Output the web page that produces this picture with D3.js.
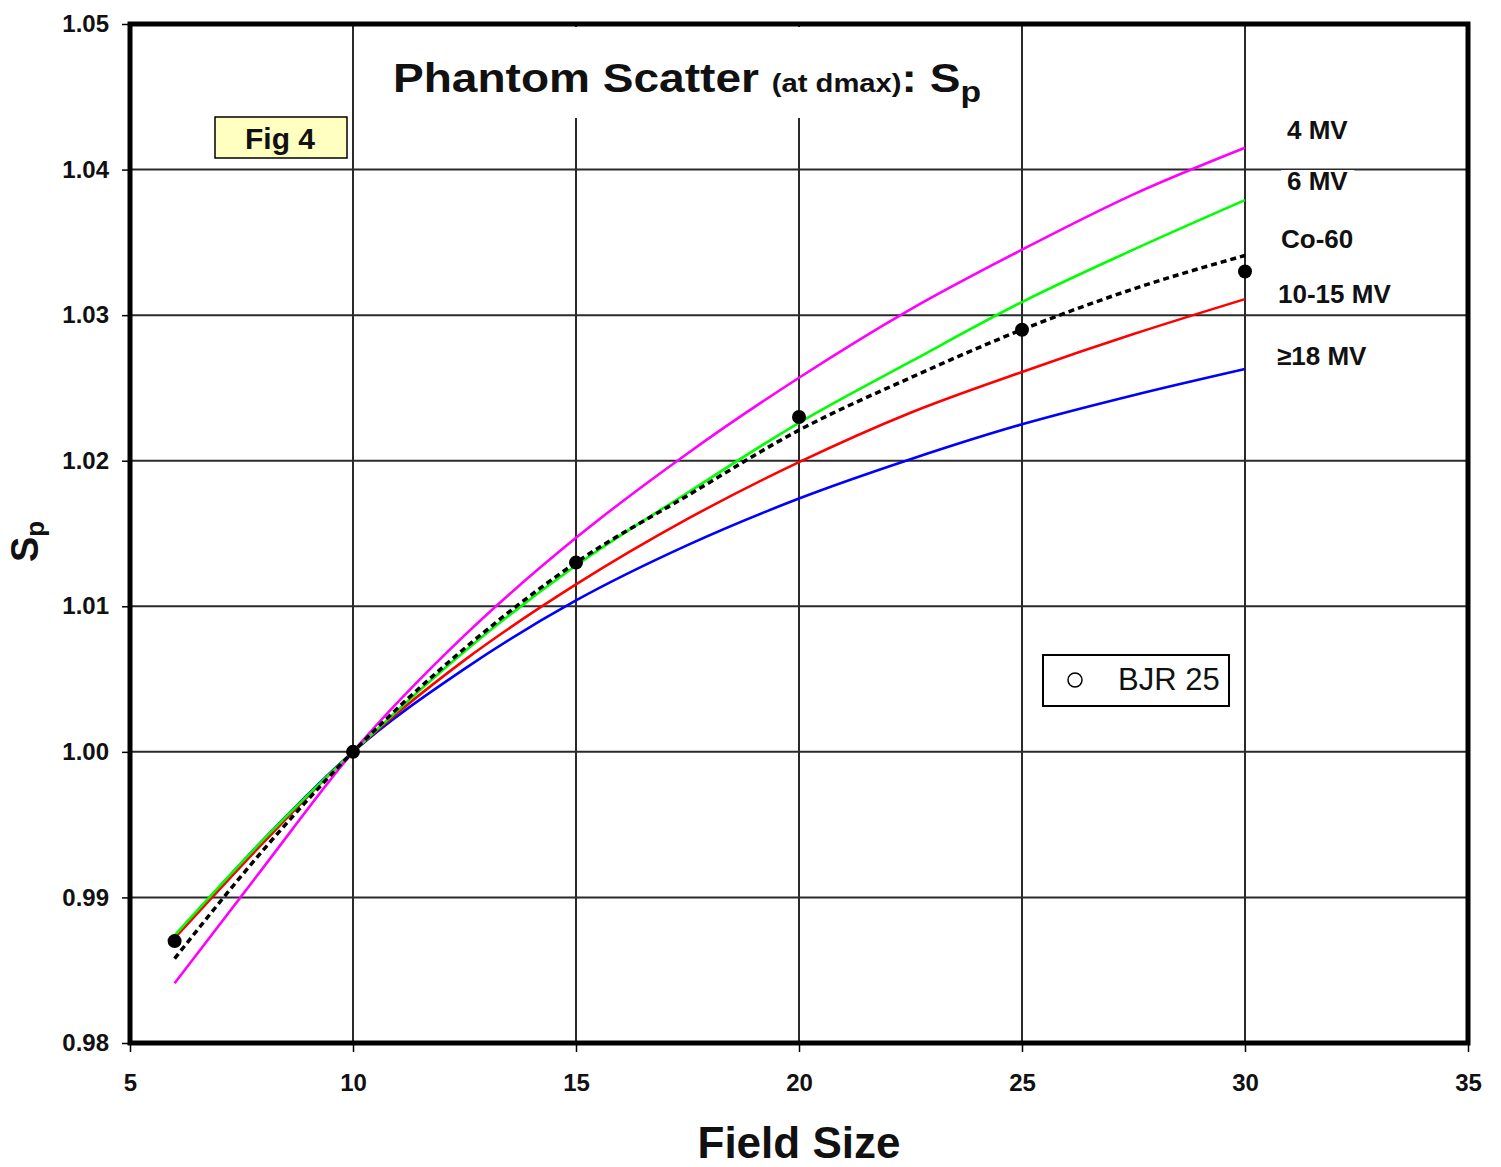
<!DOCTYPE html>
<html>
<head>
<meta charset="utf-8">
<script src="https://cdn.jsdelivr.net/npm/d3@7"></script>
<style>
  html, body { margin: 0; padding: 0; background: #fff; }
  svg { display: block; font-family: "Liberation Sans", Arial, sans-serif; }
</style>
</head>
<body>
<svg id="chart" width="1501" height="1167"></svg>
<script>
// ---- data ----
const fieldSizes = [6, 8, 10, 12.5, 15, 17.5, 20, 22.5, 25, 27.5, 30];
const mv4    = [0.9841, 0.9921, 1.0000, 1.0080, 1.0147, 1.0205, 1.0257, 1.0304, 1.0345, 1.0383, 1.0415];
const mv6    = [0.9874, 0.9940, 1.0000, 1.0069, 1.0128, 1.0178, 1.0226, 1.0268, 1.0309, 1.0345, 1.0379];
const co60   = [0.9858, 0.9933, 1.0000, 1.0071, 1.0130, 1.0176, 1.0221, 1.0257, 1.0290, 1.0318, 1.0341];
const mv1015 = [0.9872, 0.9938, 1.0000, 1.0063, 1.0115, 1.0160, 1.0199, 1.0233, 1.0261, 1.0287, 1.0311];
const mv18   = [0.9873, 0.9940, 1.0000, 1.0057, 1.0104, 1.0142, 1.0174, 1.0201, 1.0225, 1.0245, 1.0263];
const bjrX = [6, 10, 15, 20, 25, 30];
const bjrY = [0.987, 1.000, 1.013, 1.023, 1.029, 1.033];
const xTicks = [5, 10, 15, 20, 25, 30, 35];
const yTicks = [0.98, 0.99, 1.00, 1.01, 1.02, 1.03, 1.04, 1.05];
const seriesNames = ["4 MV", "6 MV", "Co-60", "10-15 MV", "\u226518 MV"];
const seriesColors = ["#ff00ff", "#00ff00", "#000000", "#ff0000", "#0000ff"];
const seriesValues = [mv4, mv6, co60, mv1015, mv18];

// ---- layout ----
const L = 130, R = 1468, T = 24, B = 1043;
const x = d3.scaleLinear().domain([5, 35]).range([L, R]);
const y = d3.scaleLinear().domain([0.98, 1.05]).range([B, T]);
const svg = d3.select("#chart");

// gridlines
const grid = svg.append("g").attr("stroke", "#2a2a2a").attr("stroke-width", 2);
yTicks.slice(1, -1).forEach(v => grid.append("line")
  .attr("x1", L).attr("x2", R).attr("y1", y(v)).attr("y2", y(v)));
xTicks.slice(1, -1).forEach(v => grid.append("line")
  .attr("x1", x(v)).attr("x2", x(v)).attr("y1", T).attr("y2", B));

// title background (hides gridlines)
svg.append("rect").attr("x", 383).attr("y", T + 3).attr("width", 607).attr("height", 91).attr("fill", "#fff");

// axes (ticks + labels)
const xAxis = d3.axisBottom(x).tickValues(xTicks).tickSize(9).tickPadding(22).tickFormat(d3.format("d"));
const gx = svg.append("g").attr("transform", `translate(0,${B})`).call(xAxis);
gx.select(".domain").remove();
gx.selectAll("line").attr("stroke", "#000").attr("stroke-width", 1.5);
gx.selectAll("text").attr("font-size", 24).attr("font-weight", "bold").attr("fill", "#111")
  .attr("font-family", "Liberation Sans, Arial, sans-serif");

const yAxis = d3.axisLeft(y).tickValues(yTicks).tickSize(8).tickPadding(13).tickFormat(d3.format(".2f"));
const gy = svg.append("g").attr("transform", `translate(${L},0)`).call(yAxis);
gy.select(".domain").remove();
gy.selectAll("line").attr("stroke", "#000").attr("stroke-width", 1.5);
gy.selectAll("text").attr("font-size", 24).attr("font-weight", "bold").attr("fill", "#111")
  .attr("font-family", "Liberation Sans, Arial, sans-serif");

// curves
const line = d3.line().x(d => x(d[0])).y(d => y(d[1])).curve(d3.curveMonotoneX);
const drawOrder = [4, 3, 1, 0, 2];
drawOrder.forEach(i => {
  const pts = fieldSizes.map((f, k) => [f, seriesValues[i][k]]);
  const p = svg.append("path").datum(pts).attr("d", line)
    .attr("fill", "none").attr("stroke", seriesColors[i])
    .attr("stroke-width", i === 2 ? 3.5 : 2.6);
  if (i === 2) p.attr("stroke-dasharray", "6,4");
});

// BJR points
svg.append("g").selectAll("circle").data(bjrX.map((f, k) => [f, bjrY[k]])).join("circle")
  .attr("cx", d => x(d[0])).attr("cy", d => y(d[1])).attr("r", 7).attr("fill", "#000");

// frame
svg.append("rect").attr("x", L).attr("y", T).attr("width", R - L).attr("height", B - T)
  .attr("fill", "none").attr("stroke", "#000").attr("stroke-width", 5);

// title
const title = svg.append("text").attr("x", 393).attr("y", 92).attr("font-weight", "bold").attr("fill", "#111")
  .attr("textLength", 588).attr("lengthAdjust", "spacingAndGlyphs");
title.append("tspan").attr("font-size", 41).text("Phantom Scatter ");
title.append("tspan").attr("font-size", 26).text("(at dmax)");
title.append("tspan").attr("font-size", 41).text(": S");
title.append("tspan").attr("font-size", 30).attr("dy", 10).text("p");

// Fig 4 box
svg.append("rect").attr("x", 215).attr("y", 117).attr("width", 132).attr("height", 41)
  .attr("fill", "#ffffc0").attr("stroke", "#000").attr("stroke-width", 1.5);
svg.append("text").attr("x", 280).attr("y", 149).attr("text-anchor", "middle")
  .attr("font-size", 30).attr("font-weight", "bold").attr("fill", "#111").text("Fig 4");

// series labels
const labelPos = [[1287, 129], [1287, 180], [1281, 238], [1278, 293], [1277, 355]];
seriesNames.forEach((n, i) => {
  const t = svg.append("text").attr("x", labelPos[i][0]).attr("y", labelPos[i][1] + 10)
    .attr("font-size", 26).attr("font-weight", "bold").attr("fill", "#111").text(n);
  if (i === 1) {
    const bb = t.node().getBBox();
    svg.insert("rect", () => t.node()).attr("x", bb.x - 6).attr("y", bb.y + 4)
      .attr("width", bb.width + 12).attr("height", bb.height - 8).attr("fill", "#fff");
  }
});

// BJR legend
svg.append("rect").attr("x", 1043).attr("y", 655).attr("width", 186).attr("height", 51)
  .attr("fill", "#fff").attr("stroke", "#000").attr("stroke-width", 2);
svg.append("circle").attr("cx", 1075).attr("cy", 680).attr("r", 7)
  .attr("fill", "#fff").attr("stroke", "#000").attr("stroke-width", 1.5);
svg.append("text").attr("x", 1118).attr("y", 690).attr("font-size", 31).attr("fill", "#111").text("BJR 25");

// axis titles
svg.append("text").attr("x", x(20)).attr("y", 1158).attr("text-anchor", "middle")
  .attr("font-size", 44).attr("font-weight", "bold").attr("fill", "#111").text("Field Size");
const yt = svg.append("text").attr("transform", "translate(38,562) rotate(-90)")
  .attr("font-size", 38).attr("font-weight", "bold").attr("fill", "#111");
yt.append("tspan").text("S");
yt.append("tspan").attr("font-size", 26).attr("dy", 6).text("p");
</script>
</body>
</html>
